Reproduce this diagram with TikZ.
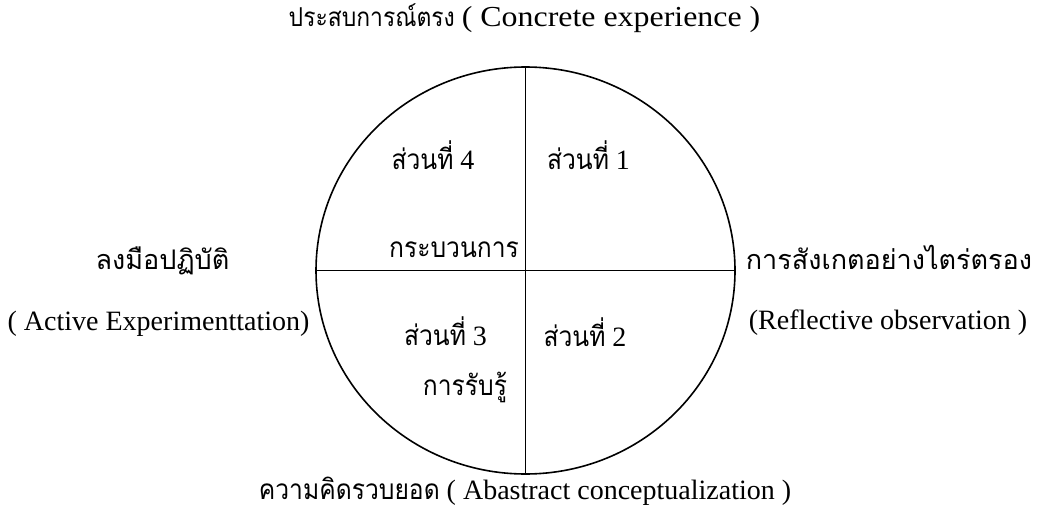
\documentclass[tikz,border=0pt]{standalone}
\usepackage{fontspec}
\setmainfont{Liberation Serif}
\newfontfamily\thaiwide[Script=Thai]{Loma}
\newfontfamily\thainarrow[Script=Thai,FakeStretch=0.88]{Loma}
\newfontfamily\latwide[FakeStretch=1.1]{Liberation Serif}
\usetikzlibrary{shapes.geometric}
\newcommand{\thw}[1]{{\thaiwide #1}}
\newcommand{\thn}[1]{{\thainarrow #1}}
\newcommand{\ltw}[1]{{\latwide #1}}
\begin{document}
\begin{tikzpicture}[x=1pt,y=-1pt,
  lbl/.style={inner sep=0pt, anchor=base, font=\fontsize{28}{32}\selectfont},
  ring/.style={draw, ellipse, line width=1.6pt, inner sep=0pt, minimum width=419pt, minimum height=407pt},
  divider/.style={line width=1.6pt}]
\useasboundingbox (0,0) rectangle (1046,508);
\node[ring] (c) at (525.5,270.5) {};
\draw[divider] (c.north) -- (c.south);
\draw[divider] (c.west) -- (c.east);
\node[lbl] (top) at (524.5,27) {{\fontsize{26}{30}\selectfont\thn{ประสบการณ์ตรง}} {\fontsize{29}{32}\selectfont\ltw{( Concrete experience )}}};
\node[lbl] (bottom) at (525,499) {\thn{ความคิดรวบยอด} ( Abastract conceptualization )};
\node[lbl] (leftth) at (162.5,269) {{\fontsize{27}{32}\selectfont\thw{ลงมือปฏิบัติ}}};
\node[lbl] (lefteng) at (158.5,330) {( Active Experimenttation)};
\node[lbl] (rightth) at (889,269) {{\fontsize{27}{32}\selectfont\thw{การสังเกตอย่างไตร่ตรอง}}};
\node[lbl] (righteng) at (888,329) {(Reflective observation )};
\node[lbl] (q4) at (433,169) {\thn{ส่วนที่} 4};
\node[lbl] (q1) at (588.5,169) {\thn{ส่วนที่} 1};
\node[lbl] (proc) at (454,257) {\thn{กระบวนการ}};
\node[lbl] (q3) at (445.5,345) {\thn{ส่วนที่} 3};
\node[lbl] (perc) at (465,395) {\thn{การรับรู้}};
\node[lbl] (q2) at (585,346) {\thn{ส่วนที่} 2};
\end{tikzpicture}
\end{document}
